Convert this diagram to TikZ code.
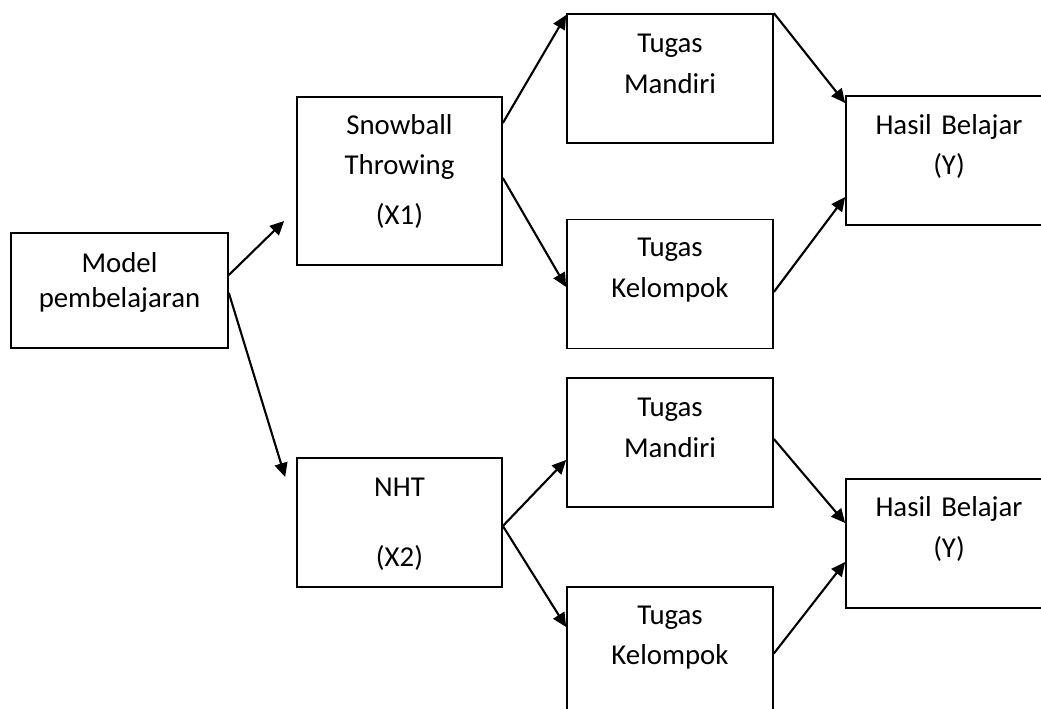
\documentclass[tikz,border=0pt]{standalone}
\usepackage{fontspec}
\setmainfont{Carlito}
\usepackage{tikz}
\usetikzlibrary{arrows.meta,calc}

\tikzset{
    kotak/.style={draw, line width=1pt, minimum width=4.12cm, minimum height=2.58cm, inner sep=0pt},
    teks/.style={anchor=base, text width=4cm, align=center, inner sep=0pt,
        font=\fontsize{16.4pt}{23.2pt}\selectfont},
    panah/.style={-{Triangle[length=0.28cm,width=0.26cm]}, line width=1.2pt},
}

\begin{document}
\begin{tikzpicture}[x=0.02cm, y=-0.02cm]
    \useasboundingbox (0,0) rectangle (1041,709);
    \clip (0,0) rectangle (1041,709);

    % kotak (model, X1, X2, tugas, hasil)
    \node[kotak, minimum width=4.34cm, minimum height=2.3cm] (mp) at (119.5,290.5) {};
    \node[kotak, minimum width=4.1cm, minimum height=3.36cm] (sb) at (399.5,181) {};
    \node[kotak, minimum width=4.1cm] (nht) at (399.5,522.5) {};
    \node[kotak] (tm1) at (670,78.5) {};
    \node[kotak] (tk1) at (670,284) {};
    \node[kotak] (tm2) at (670,442.5) {};
    \node[kotak, minimum height=2.66cm] (tk2) at (670,653.5) {};
    \node[kotak] (hb1) at (949,160.5) {};
    \node[kotak] (hb2) at (949,543.5) {};

    % tulisan di dalam kotak
    \node[teks] (mp-t) at ($(mp.north)+(0,40)$) {Model\\[-3pt]pembelajaran};
    \node[teks] (sb-t) at ($(sb.north)+(0,38)$) {Snowball\\Throwing\\[5pt](X1)};
    \node[teks] (nht-t) at ($(nht.north)+(0,39.3)$) {NHT\\[16.5pt](X2)};
    \node[teks] (tm1-t) at ($(tm1.north)+(0,39.3)$) {Tugas\\Mandiri};
    \node[teks] (tk1-t) at ($(tk1.north)+(0,38.3)$) {Tugas\\Kelompok};
    \node[teks] (tm2-t) at ($(tm2.north)+(0,39.3)$) {Tugas\\Mandiri};
    \node[teks] (tk2-t) at ($(tk2.north)+(0,38)$) {Tugas\\Kelompok};
    \node[teks] (hb1-t) at ($(hb1.north)+(0,39)$) {Hasil Belajar\\(Y)};
    \node[teks] (hb2-t) at ($(hb2.north)+(0,38.3)$) {Hasil Belajar\\(Y)};

    % panah
    \draw[panah] ($(mp.east)+(0,-15.5)$) -- ($(sb.west)+(-12,40)$);
    \draw[panah] ($(mp.east)+(0,2.5)$) -- ($(nht.west)+(-11,-45.5)$);
    \draw[panah] ($(sb.east)+(0,-58)$) -- ($(tm1.west)+(0,-63.5)$);
    \draw[panah] ($(sb.east)+(0,-3)$) -- ($(tk1.west)+(0,3)$);
    \draw[panah] (tm1.north east) -- ($(hb1.west)+(0,-57.5)$);
    \draw[panah] ($(tk1.east)+(0,8)$) -- ($(hb1.west)+(0,36.5)$);
    \draw[panah] ($(nht.east)+(0,3.5)$) -- ($(tm2.west)+(0,17.5)$);
    \draw[panah] ($(nht.east)+(0,3.5)$) -- ($(tk2.west)+(0,-26.5)$);
    \draw[panah] ($(tm2.east)+(0,-3.5)$) -- ($(hb2.west)+(0,-20.5)$);
    \draw[panah] (tk2.east) -- ($(hb2.west)+(0,18.5)$);
\end{tikzpicture}
\end{document}
